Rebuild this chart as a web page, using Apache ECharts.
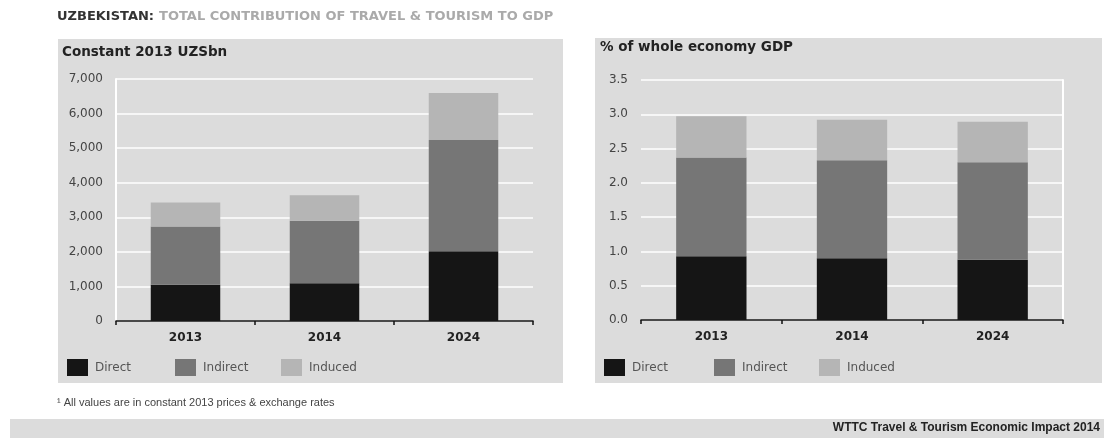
<!DOCTYPE html>
<html>
<head>
<meta charset="utf-8">
<script src="https://cdn.jsdelivr.net/npm/echarts@6/dist/echarts.min.js"></script>
<style>
  html, body { margin: 0; padding: 0; background: #fff; }
  #chart { width: 1104px; height: 438px; }
</style>
</head>
<body>
<div id="chart"></div>
<script>
// Travel & tourism contribution to GDP, Uzbekistan
const years = ['2013', '2014', '2024'];
const seriesNames = ['Direct', 'Indirect', 'Induced'];

// Constant 2013 UZSbn
const bnDirect   = [1050, 1095, 2017];
const bnIndirect = [1680, 1806, 3218];
const bnInduced  = [700, 740, 1362];

// % of whole economy GDP
const pctDirect   = [0.93, 0.90, 0.88];
const pctIndirect = [1.44, 1.43, 1.42];
const pctInduced  = [0.60, 0.59, 0.59];

const bnTicks = { min: 0, max: 7000, interval: 1000 };
const pctTicks = { min: 0, max: 3.5, interval: 0.5 };

const colors = { Direct: '#151515', Indirect: '#767676', Induced: '#b5b5b5' };
const panelBg = '#dcdcdc';
const wideFont = '"DejaVu Sans", Verdana, sans-serif';
const narrowFont = '"Liberation Sans Narrow", "Liberation Sans", sans-serif';

function fmtThousands(v) {
  return String(v).replace(/\B(?=(\d{3})+(?!\d))/g, ',');
}

function xAxisFor(gridIndex) {
  return {
    type: 'category', gridIndex, data: years,
    axisLine: { lineStyle: { color: '#111', width: 1.5 } },
    axisTick: { show: true, length: 4, lineStyle: { color: '#111', width: 1.5 } },
    axisLabel: { color: '#222', fontFamily: wideFont, fontSize: 12, fontWeight: 'bold', margin: 11 },
    splitLine: { show: false }
  };
}

function yAxisFor(gridIndex, ticks, formatter, showLine) {
  return {
    type: 'value', gridIndex, min: ticks.min, max: ticks.max, interval: ticks.interval,
    axisLine: { show: showLine, lineStyle: { color: '#fff', width: 2 } },
    axisTick: { show: false },
    axisLabel: { color: '#444', fontFamily: wideFont, fontSize: 12, margin: 13, formatter },
    splitLine: { lineStyle: { color: '#fff', width: 1.5 } }
  };
}

function barSeries(name, data, axisIndex, stack) {
  return {
    type: 'bar', name, data, stack,
    xAxisIndex: axisIndex, yAxisIndex: axisIndex,
    barWidth: '50%',
    itemStyle: { color: colors[name] },
    emphasis: { disabled: true },
    silent: true
  };
}

function legendItem(name, left, top) {
  return {
    data: [name], left, top, orient: 'horizontal', padding: 0,
    itemWidth: 21, itemHeight: 17, itemGap: 0,
    icon: 'rect', selectedMode: false,
    textStyle: { color: '#555', fontFamily: wideFont, fontSize: 12, padding: [0, 0, 0, 2] }
  };
}

const option = {
  animation: false,
  backgroundColor: '#fff',
  graphic: [
    { type: 'rect', z: -10, shape: { x: 58, y: 39, width: 505, height: 344 }, style: { fill: panelBg } },
    { type: 'rect', z: -10, shape: { x: 595, y: 38, width: 507, height: 345 }, style: { fill: panelBg } },
    { type: 'rect', z: -10, shape: { x: 10, y: 419, width: 1094, height: 19 }, style: { fill: panelBg } }
  ],
  title: [
    {
      text: '{a|UZBEKISTAN:} {b|TOTAL CONTRIBUTION OF TRAVEL & TOURISM TO GDP}',
      left: 57, top: 8, padding: 0,
      textStyle: {
        rich: {
          a: { color: '#333', fontFamily: wideFont, fontSize: 13, fontWeight: 'bold' },
          b: { color: '#aaa', fontFamily: wideFont, fontSize: 13 }
        }
      }
    },
    {
      text: 'Constant 2013 UZSbn', left: 62, top: 45, padding: 0,
      textStyle: { color: '#222', fontFamily: wideFont, fontSize: 13.5, fontWeight: 'bold' }
    },
    {
      text: '% of whole economy GDP', left: 600, top: 40, padding: 0,
      textStyle: { color: '#222', fontFamily: wideFont, fontSize: 13.5, fontWeight: 'bold' }
    },
    {
      text: '¹ All values are in constant 2013 prices & exchange rates', left: 57, top: 397, padding: 0,
      textStyle: { color: '#444', fontFamily: narrowFont, fontSize: 11, fontWeight: 'normal' }
    },
    {
      text: 'WTTC Travel & Tourism Economic Impact 2014', right: 4, top: 422, padding: 0,
      textStyle: { color: '#222', fontFamily: narrowFont, fontSize: 12, fontWeight: 'bold' }
    }
  ],
  legend: [
    legendItem('Direct', 67, 359),
    legendItem('Indirect', 175, 359),
    legendItem('Induced', 281, 359),
    legendItem('Direct', 604, 359),
    legendItem('Indirect', 714, 359),
    legendItem('Induced', 819, 359)
  ],
  grid: [
    { left: 116, right: 571, top: 79, bottom: 117 },
    { left: 641, right: 41, top: 80, bottom: 118 }
  ],
  xAxis: [xAxisFor(0), xAxisFor(1)],
  yAxis: [
    yAxisFor(0, bnTicks, v => fmtThousands(v), true),
    yAxisFor(1, pctTicks, v => v.toFixed(1), false),
    {
      type: 'value', gridIndex: 1, position: 'right', min: pctTicks.min, max: pctTicks.max, interval: pctTicks.interval,
      axisLine: { show: true, lineStyle: { color: '#fff', width: 2 } },
      axisTick: { show: false }, axisLabel: { show: false }, splitLine: { show: false }
    }
  ],
  series: [
    barSeries('Direct', bnDirect, 0, 'bn'),
    barSeries('Indirect', bnIndirect, 0, 'bn'),
    barSeries('Induced', bnInduced, 0, 'bn'),
    barSeries('Direct', pctDirect, 1, 'pct'),
    barSeries('Indirect', pctIndirect, 1, 'pct'),
    barSeries('Induced', pctInduced, 1, 'pct')
  ]
};

const chart = echarts.init(document.getElementById('chart'), null, { renderer: 'canvas' });
chart.setOption(option);
</script>
</body>
</html>
